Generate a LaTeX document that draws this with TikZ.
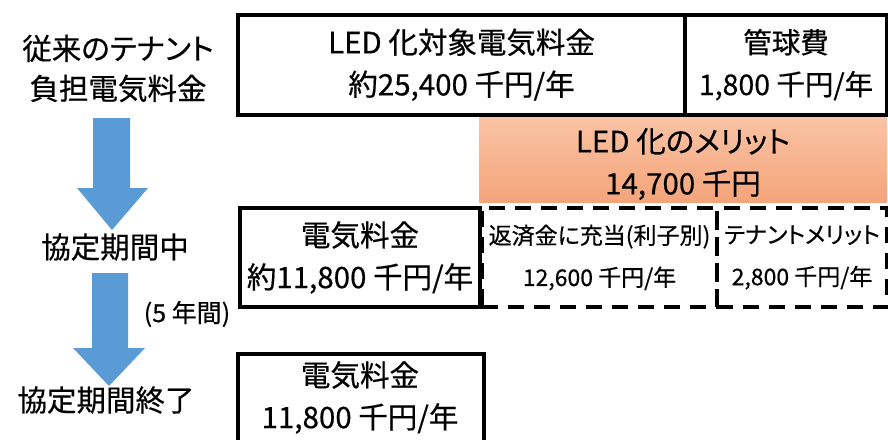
\documentclass[tikz,border=0pt]{standalone}
\usepackage{fontspec}
\newfontfamily\jp[RawFeature=+palt, FakeBold=0.5]{Noto Sans CJK JP}
\definecolor{arrowblue}{RGB}{91,155,213}
\definecolor{orangetop}{RGB}{250,196,166}
\definecolor{orangebot}{RGB}{244,164,122}
\begin{document}
\begin{tikzpicture}[x=1pt,y=-1pt,
  big/.style={font=\jp\fontsize{29.5}{42}\selectfont},
  small/.style={font=\jp\fontsize{23}{42}\selectfont},
  label/.style={big, align=center, inner sep=0pt},
  solidbox/.style={draw, line width=4pt, anchor=north west, inner sep=0pt, align=center, big},
  dashbox/.style={draw, line width=4pt, dash pattern=on 16pt off 10pt, anchor=north west, inner sep=0pt, align=center, small},
  blockarrow/.style={fill=arrowblue, draw=none}]
\useasboundingbox (0,0) rectangle (888,439);
\clip (0,0) rectangle (888,439);
% left labels
\node[label, font=\jp\fontsize{29.5}{40}\selectfont] (l1) at (118,68.5) {従来のテナント\\負担電気料金};
\node[label] (l2) at (115,247) {協定期間中};
\node[label] (l3) at (106,400) {協定期間終了};
\node[inner sep=0pt, font=\jp\fontsize{25}{30}\selectfont] (l4) at (187,314) {(5 年間)};
% block arrows
\fill[blockarrow] (93,118) -- (130,118) -- (130,188) -- (148,188) -- (112,230) -- (77,188) -- (93,188) -- cycle;
\fill[blockarrow] (92,273) -- (128,273) -- (128,348) -- (145,348) -- (109,386) -- (73,348) -- (92,348) -- cycle;
% orange merit box
\shade[top color=orangetop, bottom color=orangebot] (479,115) rectangle (887,202);
\node[big, align=center, inner sep=0pt] (merit) at (683,164) {LED 化のメリット\\14,700 千円};
% top row
\node[solidbox, minimum width=447pt, minimum height=100.5pt] (led) at (236,12.5) {LED 化対象電気料金\\約25,400 千円/年};
\node[solidbox, minimum width=202pt, minimum height=100.5pt, font=\jp\fontsize{28.5}{42}\selectfont] (tube) at (683,12.5) {管球費\\1,800 千円/年};
% middle row
\node[dashbox, minimum width=235pt, minimum height=99pt] (repay) at (480,206) {返済金に充当(利子別)\\12,600 千円/年};
\node[dashbox, minimum width=170pt, minimum height=99pt] (tenant) at (715,206) {テナントメリット\\2,800 千円/年};
\node[solidbox, minimum width=240pt, minimum height=99pt] (elec1) at (238,206) {電気料金\\約11,800 千円/年};
% bottom row
\node[solidbox, minimum width=246pt, minimum height=100pt] (elec2) at (236,352) {};
\node[big, align=center, inner sep=0pt] (elec2t) at (360,397.5) {電気料金\\11,800 千円/年};
\end{tikzpicture}
\end{document}
